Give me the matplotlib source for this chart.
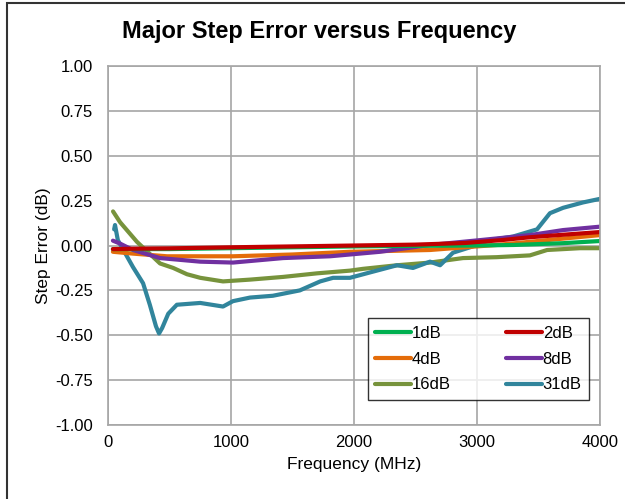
import numpy as np
import matplotlib.pyplot as plt
from matplotlib.patches import Rectangle

plt.rcParams['font.family'] = ['Liberation Sans', 'DejaVu Sans']

# frequency points (MHz) and step error (dB)
f_1db = [40, 200, 500, 1000, 1500, 2000, 2500, 3000, 3300, 3700, 4000]
e_1db = [-0.02, -0.02, -0.02, -0.015, -0.01, -0.005, -0.002, 0.0, 0.003, 0.013, 0.025]

f_2db = [40, 200, 500, 1000, 1500, 2000, 2500, 2900, 3200, 3430, 3700, 4000]
e_2db = [-0.02, -0.018, -0.016, -0.01, -0.005, 0.0, 0.005, 0.014, 0.03, 0.046, 0.06, 0.075]

f_4db = [40, 200, 480, 1016, 1500, 1967, 2300, 2618, 2900, 3160, 3570, 4000]
e_4db = [-0.035, -0.045, -0.06, -0.06, -0.05, -0.035, -0.03, -0.025, -0.01, 0.003, 0.03, 0.058]

f_8db = [40, 100, 203, 423, 750, 1016, 1423, 1805, 2211, 2618, 3024, 3430, 3700, 4000]
e_8db = [0.027, 0.01, -0.025, -0.07, -0.09, -0.095, -0.07, -0.06, -0.035, 0.003, 0.03, 0.058, 0.086, 0.105]

f_16db = [41, 98, 236, 423, 530, 642, 750, 935, 1155, 1423, 1700, 1967, 2073,
          2350, 2618, 2886, 3160, 3430, 3570, 3837, 4000]
e_16db = [0.19, 0.13, 0.02, -0.10, -0.125, -0.16, -0.18, -0.20, -0.19, -0.175, -0.155,
          -0.14, -0.13, -0.11, -0.095, -0.07, -0.065, -0.055, -0.025, -0.015, -0.015]

f_31db = [50, 57, 80, 203, 285, 340, 390, 415, 440, 490, 560, 750, 935, 1016, 1155, 1340,
          1560, 1725, 1830, 1967, 2130, 2350, 2480, 2618, 2700, 2805, 2943, 3105,
          3293, 3488, 3593, 3700, 3862, 4000]
e_31db = [0.09, 0.114, 0.03, -0.12, -0.21, -0.33, -0.45, -0.49, -0.46, -0.38, -0.33, -0.32,
          -0.34, -0.31, -0.29, -0.28, -0.25, -0.20, -0.18, -0.18, -0.15, -0.11, -0.125,
          -0.09, -0.11, -0.04, -0.01, 0.03, 0.05, 0.09, 0.18, 0.21, 0.24, 0.26]

series = [
    ("1dB", f_1db, e_1db, "#00B050"),
    ("2dB", f_2db, e_2db, "#C00000"),
    ("4dB", f_4db, e_4db, "#E46C0A"),
    ("8dB", f_8db, e_8db, "#7030A0"),
    ("16dB", f_16db, e_16db, "#77933C"),
    ("31dB", f_31db, e_31db, "#31859C"),
]

fig = plt.figure(figsize=(6.25, 4.99), dpi=100)
ax = fig.add_axes([0.1728, 0.1483, 0.7872, 0.7194])

# draw order: bigger steps underneath
for name, f, e, c in [series[4], series[5], series[2], series[3], series[0], series[1]]:
    ax.plot(f, e, color=c, lw=3, label=name, solid_capstyle="round")

ax.set_xlim(0, 4000)
ax.set_ylim(-1.0, 1.0)
ax.set_xticks([0, 1000, 2000, 3000, 4000])
ax.set_yticks(np.arange(-1.0, 1.01, 0.25))
ax.set_yticklabels(["%.2f" % v for v in np.arange(-1.0, 1.01, 0.25)])
ax.tick_params(length=0, labelsize=12)
ax.tick_params(axis="y", pad=11)
ax.tick_params(axis="x", pad=7)
ax.grid(True, color="#A6A6A6", lw=1.2)
ax.set_axisbelow(True)
for s in ax.spines.values():
    s.set_color("#A6A6A6")
    s.set_linewidth(1.2)

ax.set_xlabel("Frequency (MHz)", fontsize=12.5, labelpad=5)
ax.set_ylabel("Step Error (dB)", fontsize=12.5, labelpad=3)
fig.text(0.511, 0.936, "Major Step Error versus Frequency", ha="center", va="center",
         fontsize=17, fontweight="bold")

handles, labels = ax.get_legend_handles_labels()
# column-major fill so rows read 1/2, 4/8, 16/31
order = ["1dB", "4dB", "16dB", "2dB", "8dB", "31dB"]
hmap = dict(zip(labels, handles))
leg = ax.legend([hmap[k] for k in order], order, ncol=2, loc="lower right",
                bbox_to_anchor=(0.978, 0.07), fontsize=12, frameon=True, fancybox=False,
                handlelength=2.15, handletextpad=0.05, columnspacing=3.3, labelspacing=0.65,
                borderpad=0.45, borderaxespad=0)
leg.get_frame().set_edgecolor("black")
leg.get_frame().set_linewidth(1.0)

fig.patches.append(Rectangle((7 / 625, -0.1), 1.2, 1 - 3 / 499 + 0.1, transform=fig.transFigure,
                             fill=False, edgecolor="#333333", lw=1.5))

fig.savefig("out.png", dpi=100)
